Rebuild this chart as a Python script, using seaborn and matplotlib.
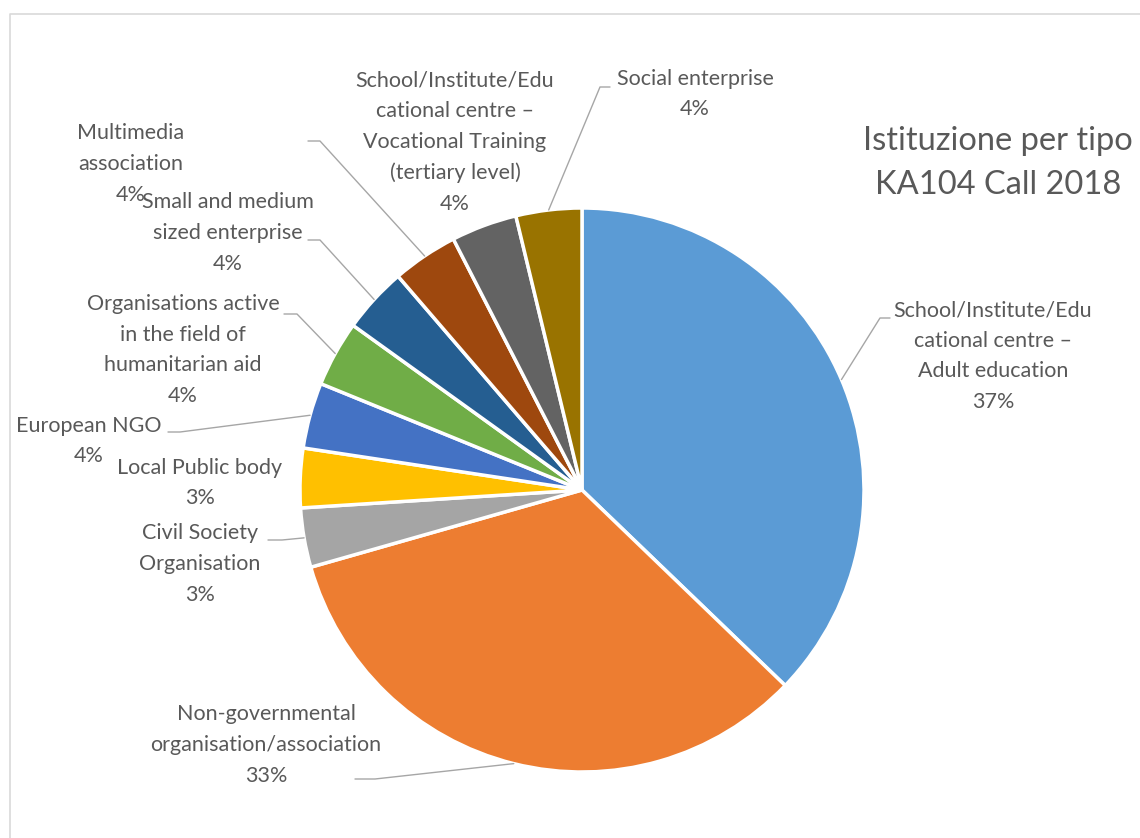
import numpy as np
import matplotlib
matplotlib.use("Agg")
import matplotlib.pyplot as plt
import seaborn as sns

# slice names (line breaks as in the original labels)
categories = [
    "School/Institute/Edu\ncational centre –\nAdult education",
    "Non-governmental\norganisation/association",
    "Civil Society\nOrganisation",
    "Local Public body",
    "European NGO",
    "Organisations active\nin the field of\nhumanitarian aid",
    "Small and medium\nsized enterprise",
    "Multimedia\nassociation",
    "School/Institute/Edu\ncational centre –\nVocational Training\n(tertiary level)",
    "Social enterprise",
]
shares = [37.2, 33.4, 3.4, 3.4, 3.77, 3.77, 3.77, 3.77, 3.77, 3.77]
colors = ["#5B9BD5", "#ED7D31", "#A5A5A5", "#FFC000", "#4472C4",
          "#70AD47", "#255E91", "#9E480E", "#636363", "#997300"]
title = "Istituzione per tipo\nKA104 Call 2018"

# layout (pixel coords, y down): label centres and leader line starts
label_xy = [(993, 356), (266, 745), (200, 564), (200, 483), (89, 441),
            (183, 350), (228, 233), (131, 164), (455, 142), (695, 94)]
leader_from = [(890, 318, -10), (355, 779, 20), (268, 540, 14), None, (168, 432, 12),
               (284, 314, 13), (308, 240, 12), (308, 141, 12), None, (610, 87, -10)]
center = (582, 490)
radius = 282

sns.set_style("white")
plt.rcParams['font.family'] = ['Lato', 'DejaVu Sans']
text_color = "#595959"

fig = plt.figure(figsize=(11.4, 8.38), dpi=100)
ax = fig.add_axes([0, 0, 1, 1])

# y axis is flipped below, so counterclock=True runs clockwise on screen
wedges, _ = ax.pie(shares, colors=colors, center=center, radius=radius,
                   startangle=270, counterclock=True,
                   wedgeprops=dict(edgecolor="white", linewidth=2.5))
ax.set_xlim(0, 1140)
ax.set_ylim(838, 0)
ax.set_aspect("equal")
ax.axis("off")

total = sum(shares)
for i, (name, val) in enumerate(zip(categories, shares)):
    x, y = label_xy[i]
    ax.text(x, y, f"{name}\n{val / total * 100:.0f}%", ha="center", va="center",
            multialignment="center", fontsize=15.5, color=text_color, linespacing=1.66)
    if leader_from[i] is not None:
        x0, y0, dx = leader_from[i]
        mid = np.deg2rad((wedges[i].theta1 + wedges[i].theta2) / 2)
        rx = center[0] + radius * np.cos(mid)
        ry = center[1] + radius * np.sin(mid)
        ax.plot([x0, x0 + dx, rx], [y0, y0, ry], color="#A6A6A6", lw=1)

ax.text(998, 163, title, ha="center", va="center", fontsize=23.5,
        color=text_color, linespacing=1.58)

# chart area border (clipped by the picture on the right and bottom)
ax.plot([10, 10, 1200], [900, 14, 14], color="#D9D9D9", lw=1.2, clip_on=False)

fig.savefig("out.png", dpi=100, facecolor="white")
